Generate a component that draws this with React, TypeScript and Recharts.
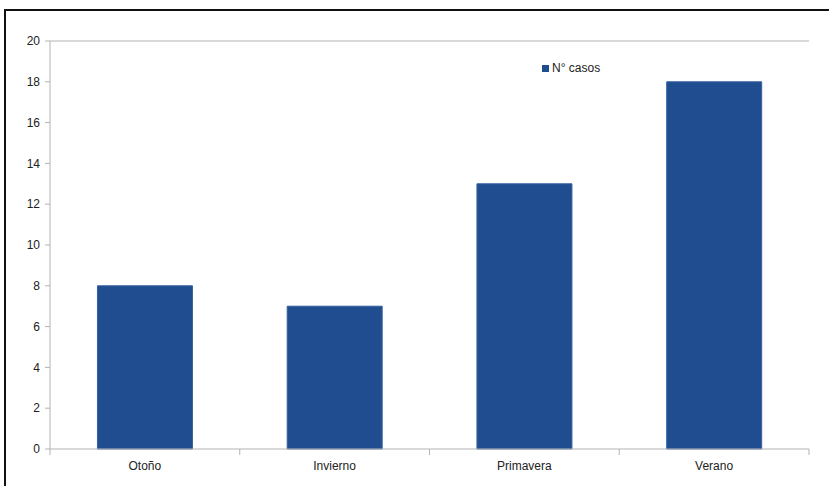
import React from 'react';
import { BarChart, Bar, XAxis, YAxis, ReferenceLine } from 'recharts';

const categories = ['Otoño', 'Invierno', 'Primavera', 'Verano'];
const casos = [8, 7, 13, 18];
const yTicks = [0, 2, 4, 6, 8, 10, 12, 14, 16, 18, 20];
const seriesName = 'N° casos';

const data = categories.map((c, i) => ({ name: c, casos: casos[i] }));

const W = 829;
const H = 486;
const M = { top: 41, right: 20, bottom: 7, left: 0 };
const YW = 50;
const XH = 30;
const plotLeft = M.left + YW;
const plotRight = W - M.right;
const plotBottom = H - M.bottom - XH;
const half = (plotRight - plotLeft) / categories.length / 2;

const GRAY = '#b3b3b3';
const BAR = '#1F4D8F';
const FONT = '"Liberation Sans", Arial, sans-serif';

const XTick = (props: any) => {
  const { x, payload, index } = props;
  const isLast = index === categories.length - 1;
  return (
    <g>
      <line x1={x - half} x2={x - half} y1={plotBottom} y2={plotBottom + 6} stroke={GRAY} />
      {isLast && <line x1={x + half} x2={x + half} y1={plotBottom} y2={plotBottom + 6} stroke={GRAY} />}
      <text x={x} y={plotBottom + 21} textAnchor="middle" fontSize={12} fill="#222" fontFamily={FONT}>
        {payload.value}
      </text>
    </g>
  );
};

export default function App() {
  return (
    <div style={{ position: 'absolute', left: 0, top: 0, width: W, height: H, background: '#fff', overflow: 'hidden' }}>
      <div style={{ position: 'absolute', left: 4, top: 9, width: W, height: H, borderTop: '2px solid #111', borderLeft: '2px solid #111', boxSizing: 'border-box' }} />
      <div style={{ position: 'absolute', left: 0, top: 0 }}>
        <BarChart width={W} height={H} data={data} margin={M} barCategoryGap="25%">
          <XAxis
            dataKey="name"
            height={XH}
            axisLine={{ stroke: GRAY }}
            tickLine={false}
            tick={<XTick />}
            interval={0}
          />
          <YAxis
            width={YW}
            domain={[0, 20]}
            ticks={yTicks}
            interval={0}
            axisLine={{ stroke: GRAY }}
            tickLine={{ stroke: GRAY }}
            tickSize={5}
            tickMargin={5}
            tick={{ fontSize: 12, fill: '#222', fontFamily: FONT }}
          />
          <YAxis yAxisId="r" orientation="right" width={0} axisLine={{ stroke: GRAY }} tick={false} tickLine={false} domain={[0, 20]} />
          <ReferenceLine y={20} stroke={GRAY} />
          <Bar dataKey="casos" name={seriesName} fill={BAR} stroke="#3560A0" strokeWidth={1} isAnimationActive={false} />
        </BarChart>
      </div>
      <div style={{ position: 'absolute', left: 542, top: 61, display: 'flex', alignItems: 'center', fontFamily: FONT, fontSize: 12, color: '#222', whiteSpace: 'nowrap' }}>
        <span style={{ display: 'inline-block', width: 7, height: 7, background: BAR, marginRight: 3 }} />
        <span>{seriesName}</span>
      </div>
    </div>
  );
}
